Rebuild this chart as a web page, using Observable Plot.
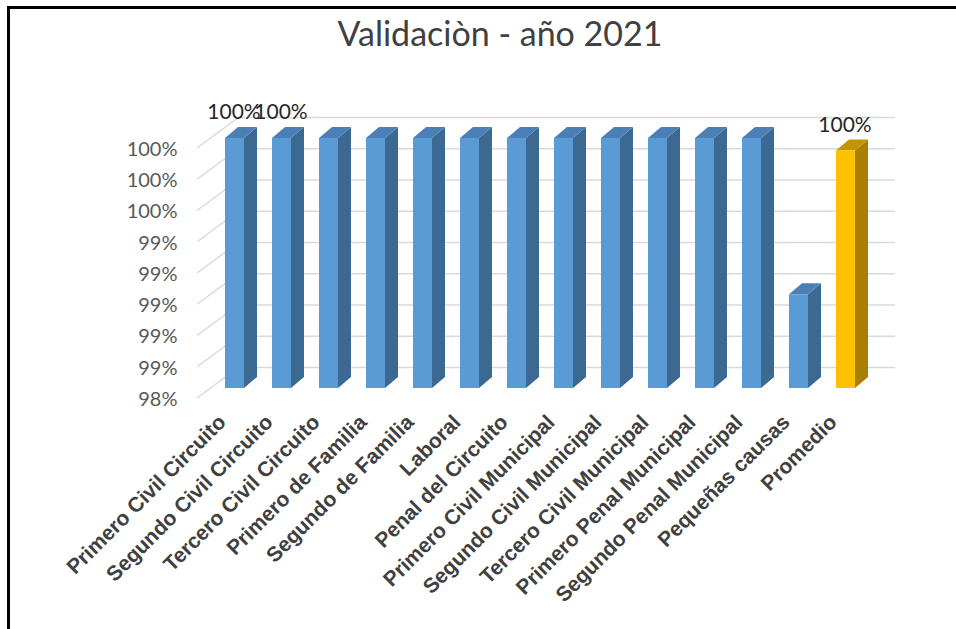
<!DOCTYPE html>
<html><head><meta charset="utf-8">
<script src="https://cdn.jsdelivr.net/npm/d3@7"></script>
<script src="https://cdn.jsdelivr.net/npm/@observablehq/plot@0.6"></script>
<style>
html,body{margin:0;padding:0;background:#fff;}
#wrap{position:relative;width:956px;height:629px;overflow:hidden;background:#fff;}
#frame{position:absolute;left:7px;top:6px;right:-10px;bottom:-10px;border-left:3px solid #000;border-top:3px solid #000;}
#title{position:absolute;left:22px;width:956px;top:13px;text-align:center;font-family:Lato;font-size:34px;line-height:1.2;color:#404040;white-space:nowrap;}
#chart{position:absolute;left:0;top:70px;}
</style></head><body>
<div id="wrap"><div id="frame"></div><div id="title">Validaciòn - año 2021</div><div id="chart"></div></div>
<script>
const categories = [
  "Primero Civil Circuito", "Segundo Civil Circuito", "Tercero Civil Circuito",
  "Primero de Familia", "Segundo de Familia", "Laboral", "Penal del Circuito",
  "Primero Civil Municipal", "Segundo Civil Municipal", "Tercero Civil Municipal",
  "Primero Penal Municipal", "Segundo Penal Municipal", "Pequeñas causas", "Promedio"
];
const values = [1, 1, 1, 1, 1, 1, 1, 1, 1, 1, 1, 1, 0.990, 0.9992];
const highlighted = ["Promedio"];
const labeledCategories = ["Primero Civil Circuito", "Segundo Civil Circuito", "Promedio"];
const tickValues = [0.984, 0.986, 0.988, 0.990, 0.992, 0.994, 0.996, 0.998, 1.000];
const tickLabels = ["98%", "99%", "99%", "99%", "99%", "99%", "100%", "100%", "100%"];

const data = categories.map((c, i) => ({category: c, value: values[i], kind: highlighted.includes(c) ? "avg" : "court"}));
const palette = {
  court: {front: "#5b9bd5", side: "#3c6991", top: "#4b80b6"},
  avg: {front: "#ffc000", side: "#a87f00", top: "#c49300"}
};
const gridColor = "#d9d9d9";
const baseValue = tickValues[0];
const depth = {dx: 13, dy: -11};

function bw(x) { return typeof x.bandwidth === "function" ? x.bandwidth() : x.bandwidth; }

function wallGrid(index, scales, values, dims) {
  const y = scales.y;
  const g = d3.create("svg:g").attr("stroke", gridColor).attr("stroke-width", 1.5);
  for (const v of tickValues) {
    const yy = y(v);
    g.append("line").attr("x1", dims.marginLeft + 2).attr("y1", yy + 10)
      .attr("x2", dims.marginLeft + 44).attr("y2", yy - 21);
  }
  return g.node();
}

function faces(index, scales) {
  const x = scales.x, y = scales.y, w = bw(x);
  const g = d3.create("svg:g");
  for (const d of data) {
    const x0 = x(d.category), x1 = x0 + w;
    const yt = y(d.value), yb = y(baseValue);
    const c = palette[d.kind];
    g.append("polygon")
      .attr("points", [[x1, yb], [x1 + depth.dx, yb + depth.dy], [x1 + depth.dx, yt + depth.dy], [x1, yt]].join(" "))
      .attr("fill", c.side);
    g.append("polygon")
      .attr("points", [[x0, yt], [x0 + depth.dx, yt + depth.dy], [x1 + depth.dx, yt + depth.dy], [x1, yt]].join(" "))
      .attr("fill", c.top);
  }
  return g.node();
}

const chart = Plot.plot({
  width: 956, height: 559,
  marginLeft: 195, marginRight: 71, marginTop: 68, marginBottom: 241,
  style: {fontFamily: "Lato", background: "transparent"},
  x: {domain: categories, padding: 0.59, axis: null},
  y: {domain: [tickValues[0], tickValues[tickValues.length - 1]], axis: null},
  marks: [
    Plot.ruleY(tickValues, {dy: -21, insetLeft: 44, insetRight: -10, stroke: gridColor, strokeWidth: 1.5}),
    wallGrid,
    Plot.text(tickValues, {y: d => d, text: (d, i) => tickLabels[i], frameAnchor: "left", textAnchor: "end",
      dx: -18, dy: 11, fontSize: 20, fill: "#595959"}),
    faces,
    Plot.barY(data, {x: "category", y1: baseValue, y2: "value", fill: d => palette[d.kind].front}),
    Plot.text(data.filter(d => labeledCategories.includes(d.category)), {x: "category", y: "value",
      text: d => d3.format(".0%")(d.value), dy: -26, dx: -1, fontSize: 21, fill: "#262626"}),
    Plot.text(categories, {x: d => d, text: d => d, frameAnchor: "bottom", rotate: -45, textAnchor: "end",
      lineAnchor: "bottom", dx: -8, dy: 35, fontSize: 21, fontWeight: "bold", fontFamily: "Liberation Sans", fill: "#404040"})
  ]
});
document.getElementById("chart").appendChild(chart);
</script>
</body></html>
